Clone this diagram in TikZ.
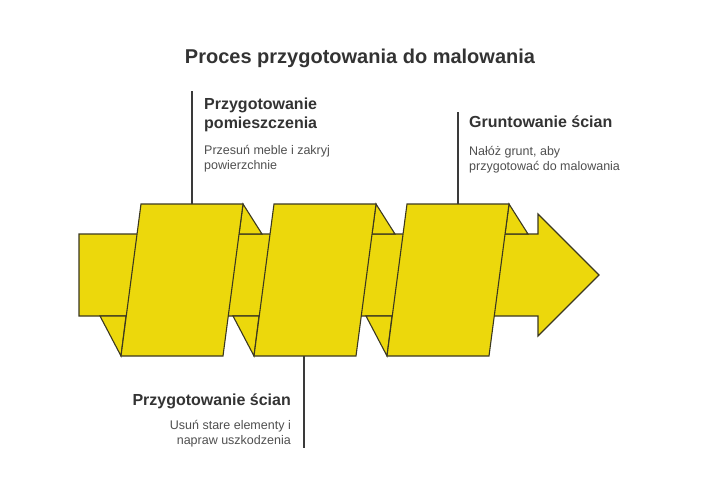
\documentclass[tikz,border=0pt]{standalone}
\usepackage{fontspec}
\setmainfont{Liberation Sans}
\definecolor{ink}{HTML}{3B3820}
\definecolor{ribbon}{HTML}{ECD80C}
\definecolor{headtext}{HTML}{333333}
\definecolor{bodytext}{HTML}{4F4F4F}
\definecolor{leadgray}{HTML}{3A3A3A}
\tikzset{
  panel/.style={fill=ribbon, draw=ink, line width=1.1pt, line join=miter},
  fold/.style={panel},
  leader/.style={draw=leadgray, line width=1.3pt},
  headline/.style={inner sep=0pt, text=headtext, font=\bfseries\fontsize{20}{24}\selectfont},
  heading/.style={inner sep=0pt, text=headtext, align=left, font=\bfseries\fontsize{16}{19}\selectfont},
  desc/.style={inner sep=0pt, text=bodytext, align=left, font=\fontsize{12.5}{15}\selectfont}
}
\begin{document}
\begin{tikzpicture}[x=1pt, y=-1pt]
\useasboundingbox (0,0) rectangle (720,500);

\node[headline, anchor=base] (title) at (360,64) {Proces przygotowania do malowania};

\filldraw[panel] (79,234) -- (538,234) -- (538,214) -- (599,275) -- (538,336)
  -- (538,316) -- (79,316) -- cycle;

\filldraw[fold] (243,204) -- (262,234) -- (239,234) -- cycle;
\filldraw[fold] (100,316) -- (121,356) -- (126,316) -- cycle;
\filldraw[fold] (376,204) -- (395,234) -- (372,234) -- cycle;
\filldraw[fold] (233,316) -- (254,356) -- (259,316) -- cycle;
\filldraw[fold] (509,204) -- (528,234) -- (505,234) -- cycle;
\filldraw[fold] (366,316) -- (387,356) -- (392,316) -- cycle;

\filldraw[panel] (141,204) -- (243,204) -- (223,356) -- (121,356) -- cycle;
\filldraw[panel] (274,204) -- (376,204) -- (356,356) -- (254,356) -- cycle;
\filldraw[panel] (407,204) -- (509,204) -- (489,356) -- (387,356) -- cycle;

\coordinate (roomtop) at (192,204);
\coordinate (roomend) at (192,91);
\coordinate (wallsbot) at (304,356);
\coordinate (wallsend) at (304,448);
\coordinate (primetop) at (458,204);
\coordinate (primeend) at (458,112);

\node[heading, anchor=base west] (roomhead) at (204,129) {Przygotowanie\\pomieszczenia};
\node[desc, anchor=base west] (roomdesc) at (204,169) {Przesuń meble i zakryj\\powierzchnie};

\node[heading, anchor=base east] (wallshead) at (291,405) {Przygotowanie ścian};
\node[desc, anchor=base east, align=right] (wallsdesc) at (291,444) {Usuń stare elementy i\\napraw uszkodzenia};

\node[heading, anchor=base west] (primehead) at (469,128) {Gruntowanie ścian};
\node[desc, anchor=base west] (primedesc) at (469,171) {Nałóż grunt, aby\\przygotować do malowania};

\draw[leader] (roomtop) -- (roomend);
\draw[leader] (wallsbot) -- (wallsend);
\draw[leader] (primetop) -- (primeend);

\end{tikzpicture}
\end{document}
